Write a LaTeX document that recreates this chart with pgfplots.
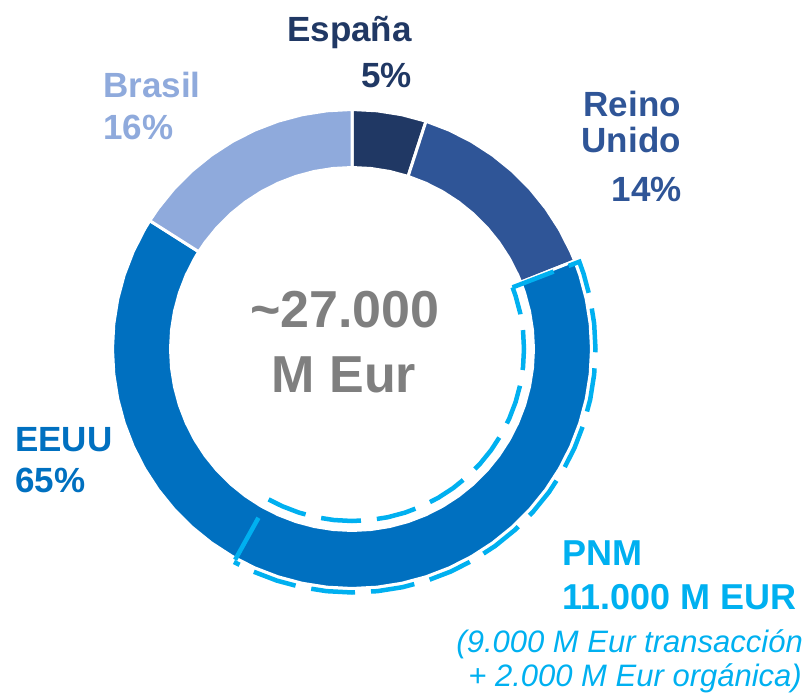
\documentclass[border=0pt]{standalone}
\usepackage{fontspec}
\setmainfont{Liberation Sans}
\usepackage{pgfplots}
\pgfplotsset{compat=1.18}
\definecolor{cEsp}{HTML}{203864}
\definecolor{cRU}{HTML}{2F5597}
\definecolor{cUS}{HTML}{0070C0}
\definecolor{cBR}{HTML}{8FAADC}
\definecolor{cPNM}{HTML}{00B0F0}
\definecolor{cGray}{HTML}{7F7F7F}
\begin{document}
\begin{tikzpicture}
\useasboundingbox (0,0) rectangle (810bp,697bp);
\begin{axis}[scale only axis, width=810bp, height=697bp,
  xmin=-352, xmax=458, ymin=-348, ymax=349,
  hide axis, clip=false, at={(0,0)}, anchor=south west]
% Shares: España 5%, Reino Unido 14%, EEUU 65%, Brasil 16% (clockwise from top), angles = 90 - 360*cumulative share
% España 90 -> 72
\addplot[data cs=polar, fill=cEsp, draw=white, line width=3bp] coordinates {
(90,239.5)(84,239.5)(78,239.5)(72,239.5)(72,181.5)(78,181.5)(84,181.5)(90,181.5)} -- cycle;
% Reino Unido 72 -> 21.6
\addplot[data cs=polar, fill=cRU, draw=white, line width=3bp] coordinates {
(72,239.5)(66,239.5)(60,239.5)(54,239.5)(48,239.5)(42,239.5)(36,239.5)(30,239.5)(24,239.5)(21.6,239.5)
(21.6,181.5)(24,181.5)(30,181.5)(36,181.5)(42,181.5)(48,181.5)(54,181.5)(60,181.5)(66,181.5)(72,181.5)} -- cycle;
% EEUU 21.6 -> -212.4
\addplot[data cs=polar, fill=cUS, draw=white, line width=3bp] coordinates {
(21.6,239.5)(18,239.5)(12,239.5)(6,239.5)(0,239.5)(-6,239.5)(-12,239.5)(-18,239.5)(-24,239.5)(-30,239.5)
(-36,239.5)(-42,239.5)(-48,239.5)(-54,239.5)(-60,239.5)(-66,239.5)(-72,239.5)(-78,239.5)(-84,239.5)(-90,239.5)
(-96,239.5)(-102,239.5)(-108,239.5)(-114,239.5)(-120,239.5)(-126,239.5)(-132,239.5)(-138,239.5)(-144,239.5)(-150,239.5)
(-156,239.5)(-162,239.5)(-168,239.5)(-174,239.5)(-180,239.5)(-186,239.5)(-192,239.5)(-198,239.5)(-204,239.5)(-210,239.5)(-212.4,239.5)
(-212.4,181.5)(-210,181.5)(-204,181.5)(-198,181.5)(-192,181.5)(-186,181.5)(-180,181.5)(-174,181.5)(-168,181.5)(-162,181.5)
(-156,181.5)(-150,181.5)(-144,181.5)(-138,181.5)(-132,181.5)(-126,181.5)(-120,181.5)(-114,181.5)(-108,181.5)(-102,181.5)
(-96,181.5)(-90,181.5)(-84,181.5)(-78,181.5)(-72,181.5)(-66,181.5)(-60,181.5)(-54,181.5)(-48,181.5)(-42,181.5)
(-36,181.5)(-30,181.5)(-24,181.5)(-18,181.5)(-12,181.5)(-6,181.5)(0,181.5)(6,181.5)(12,181.5)(18,181.5)(21.6,181.5)} -- cycle;
% Brasil 147.6 -> 90
\addplot[data cs=polar, fill=cBR, draw=white, line width=3bp] coordinates {
(147.6,239.5)(144,239.5)(138,239.5)(132,239.5)(126,239.5)(120,239.5)(114,239.5)(108,239.5)(102,239.5)(96,239.5)(90,239.5)
(90,181.5)(96,181.5)(102,181.5)(108,181.5)(114,181.5)(120,181.5)(126,181.5)(132,181.5)(138,181.5)(144,181.5)(147.6,181.5)} -- cycle;
% PNM outline (11.000 M EUR within EEUU)
\addplot[data cs=polar, draw=cPNM, line width=4.5bp, dash pattern=on 44bp off 16bp] coordinates {
(21,172)(21,243.5)(18,243.5)(12,243.5)(6,243.5)(0,243.5)(-6,243.5)(-12,243.5)(-18,243.5)(-24,243.5)(-30,243.5)(-36,243.5)(-42,243.5)
(-48,243.5)(-54,243.5)(-60,243.5)(-66,243.5)(-72,243.5)(-78,243.5)(-84,243.5)(-90,243.5)(-96,243.5)(-102,243.5)(-108,243.5)(-114,243.5)(-119,243.5)};
\addplot[data cs=polar, draw=cPNM, line width=4.5bp, dash pattern=on 40bp off 16bp] coordinates {
(-119,172)(-114,172)(-108,172)(-102,172)(-96,172)(-90,172)(-84,172)(-78,172)(-72,172)(-66,172)(-60,172)(-54,172)
(-48,172)(-42,172)(-36,172)(-30,172)(-24,172)(-18,172)(-12,172)(-6,172)(0,172)(6,172)(12,172)(18,172)(21,172)};
\addplot[data cs=polar, draw=cPNM, line width=4.5bp] coordinates {(-119,193)(-119,241)};
% labels
\begin{scope}[font=\bfseries\fontsize{35bp}{40bp}\selectfont, inner sep=0pt]
\node[anchor=base east, text=cEsp] at (axis cs:60,307) {España};
\node[anchor=base east, text=cEsp] at (axis cs:60,261) {5\%};
\node[anchor=base east, text=cRU] at (axis cs:329,232) {Reino};
\node[anchor=base east, text=cRU] at (axis cs:329,196) {Unido};
\node[anchor=base east, text=cRU] at (axis cs:330,147) {14\%};
\node[anchor=base west, text=cBR] at (axis cs:-249,251) {Brasil};
\node[anchor=base west, text=cBR] at (axis cs:-249,209) {16\%};
\node[anchor=base west, text=cUS] at (axis cs:-337,-103) {EEUU};
\node[anchor=base west, text=cUS] at (axis cs:-337,-144) {65\%};
\end{scope}
\begin{scope}[font=\bfseries\fontsize{36bp}{42bp}\selectfont, inner sep=0pt, text=cPNM]
\node[anchor=base west] at (axis cs:210,-217) {PNM};
\node[anchor=base west] at (axis cs:210,-261) {11.000 M EUR};
\end{scope}
\begin{scope}[font=\itshape\fontsize{31bp}{36bp}\selectfont, inner sep=0pt, text=cPNM]
\node[anchor=base east] at (axis cs:451,-304) {(9.000 M Eur transacción};
\node[anchor=base east] at (axis cs:450,-338) {+ 2.000 M Eur orgánica)};
\end{scope}
\begin{scope}[font=\bfseries\fontsize{52bp}{60bp}\selectfont, inner sep=0pt, text=cGray]
\node[anchor=base] at (axis cs:-7,21) {\textasciitilde27.000};
\node[anchor=base] at (axis cs:-8,-44) {M Eur};
\end{scope}
\end{axis}
\end{tikzpicture}
\end{document}
